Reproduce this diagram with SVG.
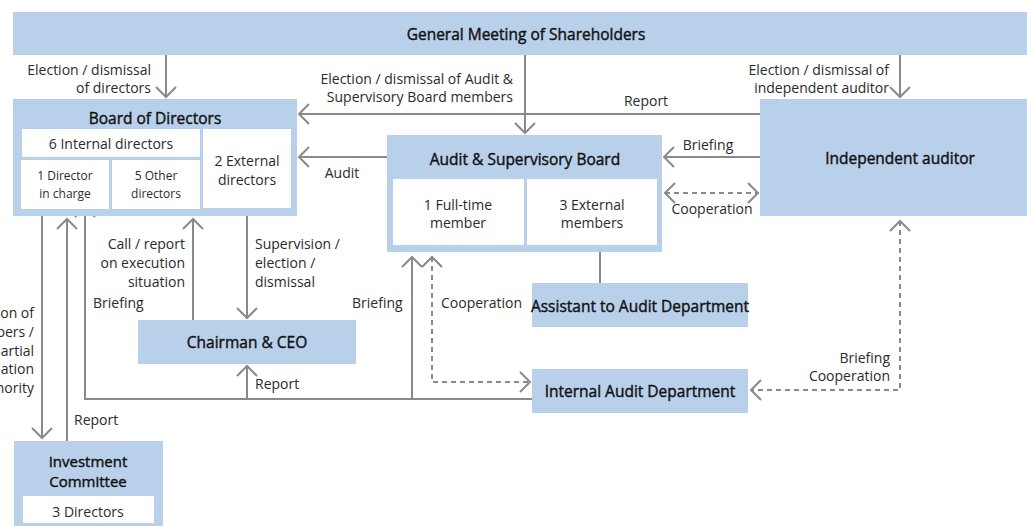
<svg xmlns="http://www.w3.org/2000/svg" width="1027" height="526" viewBox="0 0 1027 526">
<defs>
<style>
.box{fill:#b9d0ea}
.in{fill:#ffffff}
.t{font-family:"Open Sans","Noto Sans",sans-serif;font-size:15.5px;font-weight:400;fill:#111111;stroke:#111111;stroke-width:0.4px;text-anchor:middle}
.t2{font-size:15px}
.s{font-family:"Open Sans","Noto Sans",sans-serif;font-size:14px;fill:#2b2b2b;text-anchor:middle}
.xs{font-family:"Open Sans","Noto Sans",sans-serif;font-size:12px;fill:#2b2b2b;text-anchor:middle}
.l{font-family:"Open Sans","Noto Sans",sans-serif;font-size:14px;fill:#2b2b2b}
.e{text-anchor:end}
.c{text-anchor:middle}
.ln{fill:none;stroke:#8a8a8a;stroke-width:2}
.d{stroke-dasharray:5 4}
</style>
<marker id="ah" viewBox="-11 -11 13 22" markerWidth="13" markerHeight="22" refX="0" refY="0" orient="auto-start-reverse" markerUnits="userSpaceOnUse">
<path d="M-10,-10 L0,0 L-10,10" fill="none" stroke="#8a8a8a" stroke-width="2"/>
</marker>
</defs>
<rect width="1027" height="526" fill="#ffffff"/>

<g id="connectors">
<path class="ln" d="M166,55 V97" marker-end="url(#ah)"/>
<path class="ln" d="M525,55 V133" marker-end="url(#ah)"/>
<path class="ln" d="M900,55 V97" marker-end="url(#ah)"/>
<path class="ln" d="M760,114 H299" marker-end="url(#ah)"/>
<path class="ln" d="M760,157 H664" marker-end="url(#ah)"/>
<path class="ln d" d="M665,193 H758" marker-start="url(#ah)" marker-end="url(#ah)"/>
<path class="ln" d="M387,157 H299" marker-end="url(#ah)"/>
<path class="ln" d="M600,250 V283"/>
<path class="ln" d="M193,320 V219" marker-end="url(#ah)"/>
<path class="ln" d="M247,216 V318" marker-end="url(#ah)"/>
<path class="ln" d="M247,399 V366" marker-end="url(#ah)"/>
<path class="ln" d="M532,399 H85 V207" marker-end="url(#ah)"/>
<path class="ln" d="M412,399 V257" marker-end="url(#ah)"/>
<path class="ln d" d="M432,257 V382 H530" marker-start="url(#ah)" marker-end="url(#ah)"/>
<path class="ln d" d="M900,221 V390 H751" marker-start="url(#ah)" marker-end="url(#ah)"/>
<path class="ln" d="M42,216 V438" marker-end="url(#ah)"/>
<path class="ln" d="M67,441 V219" marker-end="url(#ah)"/>
</g>

<g id="labels">
<text class="l e" x="151" y="75">Election / dismissal</text>
<text class="l e" x="151" y="93">of directors</text>
<text class="l e" x="513" y="84">Election / dismissal of Audit &amp;</text>
<text class="l e" x="513" y="102">Supervisory Board members</text>
<text class="l c" x="646" y="106">Report</text>
<text class="l e" x="889" y="75">Election / dismissal of</text>
<text class="l e" x="889" y="93">independent auditor</text>
<text class="l c" x="708" y="150">Briefing</text>
<text class="l c" x="712" y="214">Cooperation</text>
<text class="l c" x="342" y="178">Audit</text>
<text class="l e" x="185" y="249">Call / report</text>
<text class="l e" x="185" y="268">on execution</text>
<text class="l e" x="185" y="287">situation</text>
<text class="l" x="255" y="249">Supervision /</text>
<text class="l" x="255" y="268">election /</text>
<text class="l" x="255" y="287">dismissal</text>
<text class="l" x="93" y="308">Briefing</text>
<text class="l" x="352" y="308">Briefing</text>
<text class="l" x="441" y="308">Cooperation</text>
<text class="l" x="255" y="389">Report</text>
<text class="l" x="74" y="425">Report</text>
<text class="l e" x="890" y="363">Briefing</text>
<text class="l e" x="890" y="381">Cooperation</text>
<text class="l e" x="34" y="318">on of</text>
<text class="l e" x="34" y="337">bers /</text>
<text class="l e" x="34" y="356">artial</text>
<text class="l e" x="34" y="374">ation</text>
<text class="l e" x="34" y="393">hority</text>
</g>

<g id="general-meeting">
<rect class="box" x="13" y="12" width="1014" height="43"/>
<text class="t" x="526" y="40">General Meeting of Shareholders</text>
</g>

<g id="board">
<rect class="box" x="13" y="99" width="284" height="117"/>
<text class="t" x="155" y="124">Board of Directors</text>
<rect class="in" x="22" y="129" width="178" height="28"/>
<text class="s" x="111" y="149">6 Internal directors</text>
<rect class="in" x="21" y="160" width="88" height="49"/>
<text class="xs" x="65" y="180">1 Director</text>
<text class="xs" x="65" y="198">in charge</text>
<rect class="in" x="112" y="160" width="88" height="49"/>
<text class="xs" x="156" y="180">5 Other</text>
<text class="xs" x="156" y="198">directors</text>
<rect class="in" x="203" y="129" width="88" height="79"/>
<text class="s" x="247" y="166">2 External</text>
<text class="s" x="247" y="185">directors</text>
</g>

<g id="audit-board">
<rect class="box" x="387" y="135" width="275" height="117"/>
<text class="t" x="525" y="165">Audit &amp; Supervisory Board</text>
<rect class="in" x="393" y="179" width="131" height="66"/>
<text class="s" x="458" y="210">1 Full-time</text>
<text class="s" x="458" y="228">member</text>
<rect class="in" x="527" y="179" width="130" height="66"/>
<text class="s" x="592" y="210">3 External</text>
<text class="s" x="592" y="228">members</text>
</g>

<g id="independent-auditor">
<rect class="box" x="760" y="99" width="267" height="117"/>
<text class="t" x="900" y="164">Independent auditor</text>
</g>

<g id="chairman">
<rect class="box" x="138" y="320" width="218" height="44"/>
<text class="t" x="247" y="348">Chairman &amp; CEO</text>
</g>

<g id="assistant">
<rect class="box" x="532" y="283" width="216" height="44"/>
<text class="t" x="640" y="312">Assistant to Audit Department</text>
</g>

<g id="internal-audit">
<rect class="box" x="532" y="369" width="216" height="44"/>
<text class="t" x="640" y="397">Internal Audit Department</text>
</g>

<g id="investment-committee">
<rect class="box" x="14" y="441" width="149" height="90"/>
<text class="t t2" x="88" y="467">Investment</text>
<text class="t t2" x="88" y="487">Committee</text>
<rect class="in" x="23" y="496" width="131" height="27"/>
<text class="s" x="88" y="517">3 Directors</text>
</g>
</svg>
